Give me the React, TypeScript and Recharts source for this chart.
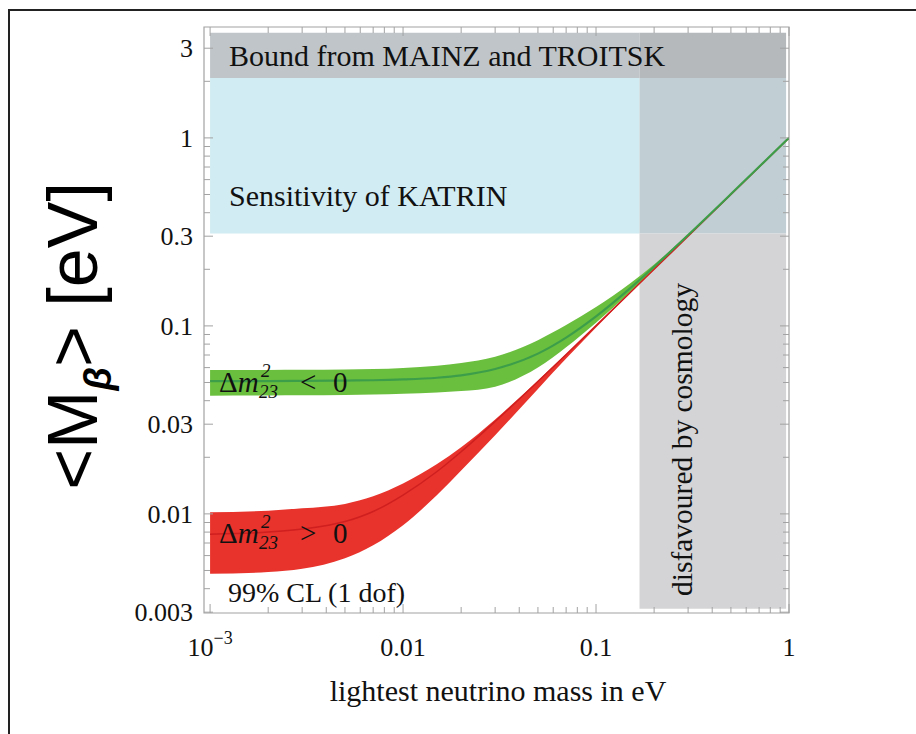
import React from "react";
import { Area, ComposedChart, Line, ReferenceArea, XAxis, YAxis } from "recharts";

// lightest neutrino mass (eV)
const MASS = [0.001, 0.002, 0.003, 0.005, 0.007, 0.01, 0.015, 0.02, 0.03, 0.05, 0.07, 0.1, 0.15, 0.2, 0.3, 0.5, 0.7, 1];

// Δm²23 > 0 (normal ordering), 99% CL band and best fit
const NORMAL_LOW = [0.0048, 0.0049, 0.0051, 0.0058, 0.0068, 0.0087, 0.0126, 0.017, 0.0262, 0.0462, 0.067, 0.098, 0.149, 0.1995, 0.3, 0.5, 0.7, 1];
const NORMAL_MID = [0.0078, 0.008, 0.0083, 0.0091, 0.0103, 0.0126, 0.0168, 0.0214, 0.031, 0.0506, 0.0704, 0.1003, 0.1502, 0.2002, 0.3001, 0.5, 0.7, 1];
const NORMAL_HIGH = [0.0102, 0.0104, 0.0107, 0.0113, 0.0124, 0.0145, 0.0184, 0.0226, 0.0318, 0.0512, 0.0708, 0.1006, 0.1504, 0.2003, 0.3002, 0.5, 0.7, 1];

// Δm²23 < 0 (inverted ordering)
const INVERTED_LOW = [0.0425, 0.0426, 0.0427, 0.0429, 0.0431, 0.0435, 0.0442, 0.045, 0.0475, 0.06, 0.077, 0.104, 0.151, 0.2005, 0.3, 0.5, 0.7, 1];
const INVERTED_MID = [0.0509, 0.0509, 0.051, 0.0512, 0.0514, 0.0519, 0.053, 0.0546, 0.059, 0.0712, 0.0866, 0.1123, 0.1583, 0.2064, 0.3043, 0.5026, 0.7018, 1.0013];
const INVERTED_HIGH = [0.0583, 0.0583, 0.0584, 0.0586, 0.0589, 0.0597, 0.0614, 0.0635, 0.0685, 0.084, 0.101, 0.126, 0.168, 0.212, 0.3075, 0.504, 0.7025, 1.0016];

// excluded / probed regions
const MASS_MIN = 0.001;
const MASS_MAX = 0.966;
const COSMO_LIMIT = 0.168;
const MB_MIN = 0.00313;
const MB_TOP = 3.62;
const MAINZ_BOUND = 2.08;
const KATRIN_SENS = 0.31;

const X_MAJOR = [0.001, 0.01, 0.1, 1];
const X_MINOR = [0.002, 0.003, 0.004, 0.005, 0.006, 0.007, 0.008, 0.009, 0.02, 0.03, 0.04, 0.05, 0.06, 0.07, 0.08, 0.09, 0.2, 0.3, 0.4, 0.5, 0.6, 0.7, 0.8, 0.9];
const X_LABELS = ["10", "0.01", "0.1", "1"];

const Y_MAJOR = [0.003, 0.01, 0.03, 0.1, 0.3, 1, 3];
const Y_LABELS = ["0.003", "0.01", "0.03", "0.1", "0.3", "1", "3"];
const Y_MINOR = [0.004, 0.005, 0.006, 0.007, 0.008, 0.009, 0.02, 0.04, 0.05, 0.06, 0.07, 0.08, 0.09, 0.2, 0.4, 0.5, 0.6, 0.7, 0.8, 0.9, 2];

const X_DOMAIN: [number, number] = [0.00093, 1];
const Y_DOMAIN: [number, number] = [0.00297, 3.89];

const data = MASS.map((m, i) => ({
  m,
  normalBand: [NORMAL_LOW[i], NORMAL_HIGH[i]],
  normal: NORMAL_MID[i],
  invertedBand: [INVERTED_LOW[i], INVERTED_HIGH[i]],
  inverted: INVERTED_MID[i],
}));

const W = 916;
const H = 734;
const PLOT_W = 585;
const PLOT_H = 586;
const SERIF = "'Liberation Serif', 'Times New Roman', serif";
const SANS = "'Liberation Sans', Arial, sans-serif";
const TICK = "#a2a2a2";

function XTick(props: any) {
  const { x, y, payload } = props;
  const idx = X_MAJOR.indexOf(payload.value);
  const len = idx >= 0 ? 9 : 6;
  return (
    <g>
      <line x1={x} x2={x} y1={y} y2={y - len} stroke={TICK} />
      <line x1={x} x2={x} y1={y - PLOT_H} y2={y - PLOT_H + len} stroke={TICK} />
      {idx >= 0 && (
        <text x={x} y={y + 43} textAnchor="middle" fontFamily={SERIF} fontSize={26} fill="#111">
          {X_LABELS[idx]}
          {idx === 0 && (
            <tspan dy={-12} fontSize={18}>
              −3
            </tspan>
          )}
        </text>
      )}
    </g>
  );
}

function YTick(props: any) {
  const { x, y, payload } = props;
  const idx = Y_MAJOR.indexOf(payload.value);
  const len = idx >= 0 ? 9 : 6;
  return (
    <g>
      <line x1={x} x2={x + len} y1={y} y2={y} stroke={TICK} />
      <line x1={x + PLOT_W} x2={x + PLOT_W - len} y1={y} y2={y} stroke={TICK} />
      {idx >= 0 && (
        <text x={x - 11} y={y + 9} textAnchor="end" fontFamily={SERIF} fontSize={26} fill="#111">
          {Y_LABELS[idx]}
        </text>
      )}
    </g>
  );
}

function DeltaLabel({ y, sign }: { y: number; sign: string }) {
  return (
    <g fontFamily={SERIF} fill="#111">
      <text x={219} y={y} fontSize={29}>
        Δ<tspan fontStyle="italic">m</tspan>
      </text>
      <text x={261} y={y - 15} fontSize={19} fontStyle="italic">2</text>
      <text x={259} y={y + 6} fontSize={19} fontStyle="italic">23</text>
      <text x={300} y={y} fontSize={29}>{sign}</text>
      <text x={333} y={y} fontSize={29}>0</text>
    </g>
  );
}

export default function App() {
  return (
    <div style={{ position: "absolute", left: 0, top: 0, width: W, height: H, background: "#fff" }}>
      <ComposedChart
        width={W}
        height={H}
        data={data}
        margin={{ top: 27, right: 127, bottom: 81, left: 144 }}
      >
        <XAxis
          dataKey="m"
          type="number"
          scale="log"
          domain={X_DOMAIN}
          allowDataOverflow
          ticks={[...X_MAJOR, ...X_MINOR]}
          interval={0}
          tick={<XTick />}
          tickLine={false}
          axisLine={false}
          tickSize={0}
          tickMargin={0}
          height={40}
        />
        <YAxis
          type="number"
          scale="log"
          domain={Y_DOMAIN}
          allowDataOverflow
          ticks={[...Y_MAJOR, ...Y_MINOR]}
          interval={0}
          tick={<YTick />}
          tickLine={false}
          axisLine={false}
          tickSize={0}
          tickMargin={0}
          width={60}
        />
        <ReferenceArea x1={MASS_MIN} x2={COSMO_LIMIT} y1={MAINZ_BOUND} y2={MB_TOP} fill="#bfc5c9" fillOpacity={1} stroke="none" />
        <ReferenceArea x1={COSMO_LIMIT} x2={MASS_MAX} y1={MAINZ_BOUND} y2={MB_TOP} fill="#b5b9bc" fillOpacity={1} stroke="none" />
        <ReferenceArea x1={MASS_MIN} x2={COSMO_LIMIT} y1={KATRIN_SENS} y2={MAINZ_BOUND} fill="#d1ecf2" fillOpacity={1} stroke="none" />
        <ReferenceArea x1={COSMO_LIMIT} x2={MASS_MAX} y1={KATRIN_SENS} y2={MAINZ_BOUND} fill="#c1ced4" fillOpacity={1} stroke="none" />
        <ReferenceArea x1={COSMO_LIMIT} x2={MASS_MAX} y1={MB_MIN} y2={KATRIN_SENS} fill="#d4d4d6" fillOpacity={1} stroke="none" />
        <Area
          dataKey="normalBand"
          type="monotone"
          fill="#e8332c"
          fillOpacity={1}
          stroke="none"
          isAnimationActive={false}
        />
        <Area
          dataKey="invertedBand"
          type="monotone"
          fill="#6bbf3e"
          fillOpacity={1}
          stroke="none"
          isAnimationActive={false}
        />
        <Line dataKey="normal" type="monotone" stroke="#cf1f1f" strokeWidth={1.5} dot={false} isAnimationActive={false} />
        <Line dataKey="inverted" type="monotone" stroke="#3d9e4a" strokeWidth={2.2} dot={false} isAnimationActive={false} />
        <ReferenceArea
          x1={X_DOMAIN[0]}
          x2={X_DOMAIN[1]}
          y1={Y_DOMAIN[0]}
          y2={Y_DOMAIN[1]}
          fill="none"
          stroke={TICK}
          strokeWidth={1.2}
        />
      </ComposedChart>
      <svg
        width={W}
        height={H}
        style={{ position: "absolute", left: 0, top: 0, pointerEvents: "none" }}
      >
        <line x1={8} x2={W} y1={10} y2={10} stroke="#222" strokeWidth={2} />
        <line x1={9} x2={9} y1={9} y2={H} stroke="#222" strokeWidth={2} />
        <text x={229} y={66} fontFamily={SERIF} fontSize={30} fill="#111">
          Bound from MAINZ and TROITSK
        </text>
        <text x={229} y={206} fontFamily={SERIF} fontSize={30} fill="#111">
          Sensitivity of KATRIN
        </text>
        <text x={228} y={602} fontFamily={SERIF} fontSize={28} fill="#111">
          99% CL (1 dof)
        </text>
        <DeltaLabel y={392} sign="<" />
        <DeltaLabel y={543} sign=">" />
        <text
          transform="translate(692, 596) rotate(-90)"
          fontFamily={SERIF}
          fontSize={29.5}
          fill="#111"
        >
          disfavoured by cosmology
        </text>
        <text x={498} y={701} textAnchor="middle" fontFamily={SERIF} fontSize={30} fill="#111">
          lightest neutrino mass in eV
        </text>
        <text
          transform="translate(97, 336) rotate(-90)"
          textAnchor="middle"
          fontFamily={SANS}
          fontSize={70}
          fill="#000"
        >
          {"<M"}
          <tspan fontSize={38} fontStyle="italic" fontWeight="bold" dy={14}>
            β
          </tspan>
          <tspan dy={-14}>{"> [eV]"}</tspan>
        </text>
      </svg>
    </div>
  );
}
